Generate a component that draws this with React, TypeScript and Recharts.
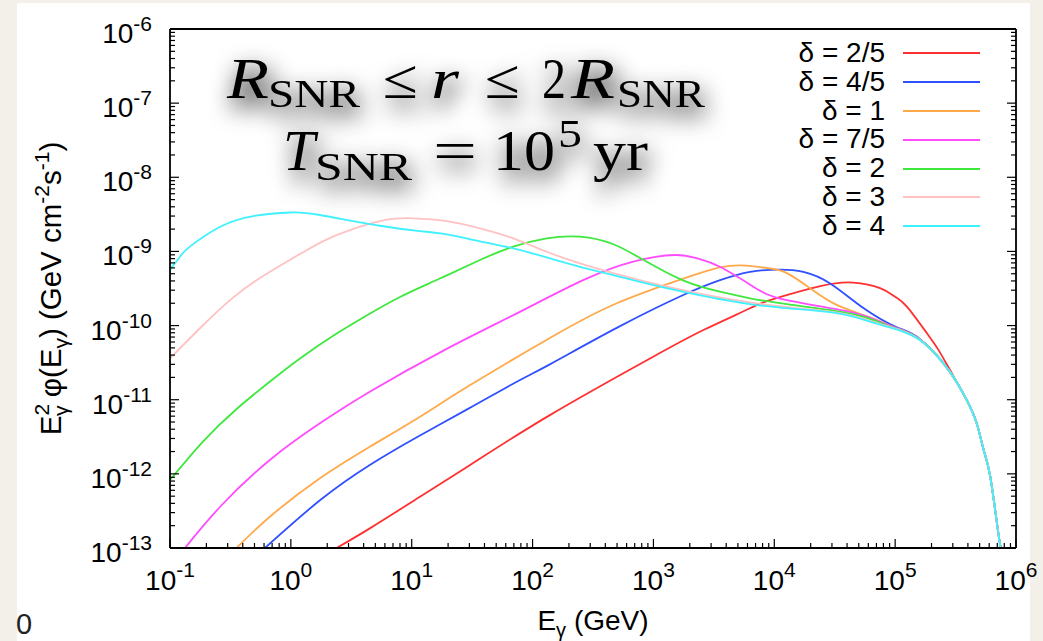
import React from "react";
import { LineChart, Line, XAxis, YAxis, Legend } from "recharts";

type Pt = [number, number];

const FONT = "'Liberation Sans', Arial, Helvetica, sans-serif";
const SERIF = "'Liberation Serif', 'Times New Roman', serif";

// axis ticks (log decades)
const xMajorTicks = [0.1, 1, 10, 100, 1e3, 1e4, 1e5, 1e6];
const yMajorTicks = [1e-13, 1e-12, 1e-11, 1e-10, 1e-9, 1e-8, 1e-7, 1e-6];
const minorMantissas = [2, 3, 4, 5, 6, 7, 8, 9];

const seriesNames = ["δ = 2/5", "δ = 4/5", "δ = 1", "δ = 7/5", "δ = 2", "δ = 3", "δ = 4"];
const seriesColors = ["#ff3030", "#3050ff", "#ffa94a", "#ff4cff", "#3ee83e", "#ffc2c2", "#3ff0ff"];

// high energy cut-off, shared by every curve
const cutoffTail: Pt[] = [
  [3.9e5, 1.0e-11], [4.73e5, 4.8e-12], [5.4e5, 2.1e-12],
  [6.1e5, 9.5e-13], [7.0e5, 2.0e-13], [7.5e5, 9.5e-14],
];

// E (GeV), E^2 phi (GeV cm^-2 s^-1)
const delta25: Pt[] = [
  [2.39, 1.0e-13], [4.5, 1.84e-13], [11.7, 4.9e-13], [30, 1.3e-12], [139, 6.2e-12],
  [937, 3.6e-11], [2590, 8.7e-11], [6300, 1.71e-10], [9200, 2.2e-10], [2.4e4, 3.4e-10],
  [4.5e4, 3.8e-10], [7.5e4, 3.2e-10], [1.0e5, 2.45e-10], [1.25e5, 1.8e-10],
  [1.82e5, 8.0e-11], [2.28e5, 4.7e-11], [2.85e5, 2.5e-11],
  ...cutoffTail,
];
const delta45: Pt[] = [
  [0.61, 1.0e-13], [1.74, 4.4e-13], [4.5, 1.32e-12], [11.7, 3.3e-12], [30, 7.7e-12],
  [74, 1.75e-11], [139, 3.0e-11], [497, 9.3e-11], [1766, 2.58e-10], [3556, 4.1e-10],
  [6300, 5.3e-10], [1.11e4, 5.7e-10], [1.74e4, 5.3e-10], [2.9e4, 3.7e-10],
  [5.5e4, 1.71e-10], [1.03e5, 9.5e-11], [1.6e5, 6.6e-11], [2.8e5, 2.45e-11],
  ...cutoffTail,
];
const delta1: Pt[] = [
  [0.356, 1.0e-13], [0.67, 2.64e-13], [1.74, 8.7e-13], [4.5, 2.32e-12], [11.7, 5.9e-12],
  [30, 1.55e-11], [139, 6.8e-11], [497, 2.0e-10], [1766, 4.3e-10], [3556, 6.1e-10],
  [5800, 6.45e-10], [9200, 5.9e-10], [1.27e4, 5.1e-10], [1.97e4, 3.2e-10],
  [3.28e4, 1.9e-10], [6.2e4, 1.29e-10], [1.03e5, 9.2e-11], [1.6e5, 6.5e-11],
  [2.8e5, 2.45e-11],
  ...cutoffTail,
];
const delta75: Pt[] = [
  [0.133, 1.0e-13], [0.26, 3.6e-13], [0.67, 1.54e-12], [1.74, 4.8e-12], [4.5, 1.28e-11],
  [18.8, 4.7e-11], [74, 1.46e-10], [262, 4.1e-10], [681, 7.3e-10], [1500, 8.95e-10],
  [2280, 8.1e-10], [3550, 6.2e-10], [6700, 3.35e-10], [1.27e4, 2.2e-10],
  [4.5e4, 1.49e-10], [8.5e4, 1.03e-10], [1.6e5, 6.55e-11], [2.8e5, 2.45e-11],
  ...cutoffTail,
];
const delta2: Pt[] = [
  [0.1, 8.26e-13], [0.189, 2.77e-12], [0.356, 7.5e-12], [0.672, 1.76e-11], [1.19, 3.6e-11],
  [2.24, 7.3e-11], [4.24, 1.37e-10], [8.0, 2.43e-10], [17.1, 4.31e-10], [36.7, 7.66e-10],
  [69.2, 1.16e-9], [131, 1.5e-9], [247, 1.58e-9], [466, 1.25e-9], [824, 7.7e-10],
  [1800, 4.0e-10], [3556, 2.86e-10], [6300, 2.33e-10], [1.27e4, 1.95e-10],
  [4.5e4, 1.43e-10], [8.5e4, 1.01e-10], [1.6e5, 6.5e-11], [2.8e5, 2.45e-11],
  ...cutoffTail,
];
const delta3: Pt[] = [
  [0.1, 3.6e-11], [0.177, 9.2e-11], [0.334, 2.4e-10], [0.631, 5.0e-10], [1.35, 1.04e-9],
  [2.39, 1.66e-9], [5.47, 2.57e-9], [10.3, 2.8e-9], [19.5, 2.57e-9], [36.7, 2.05e-9],
  [69.2, 1.5e-9], [131, 9.9e-10], [247, 6.9e-10], [466, 5.1e-10], [1290, 3.35e-10],
  [6300, 2.05e-10], [2.4e4, 1.6e-10], [4.5e4, 1.35e-10], [8.5e4, 9.9e-11],
  [1.6e5, 6.45e-11], [2.8e5, 2.45e-11],
  ...cutoffTail,
];
const delta4: Pt[] = [
  [0.1, 5.7e-10], [0.121, 8.5e-10], [0.146, 1.16e-9], [0.26, 2.15e-9], [0.49, 3.0e-9],
  [1.0, 3.35e-9], [1.74, 3.1e-9], [5.47, 2.22e-9], [11.7, 1.88e-9], [19.5, 1.7e-9],
  [36.7, 1.37e-9], [69.2, 1.1e-9], [131, 8.3e-10], [247, 6.2e-10], [466, 4.8e-10],
  [1290, 3.2e-10], [6300, 1.95e-10], [2.4e4, 1.57e-10], [4.5e4, 1.32e-10],
  [8.5e4, 9.7e-11], [1.6e5, 6.4e-11], [2.8e5, 2.45e-11],
  ...cutoffTail,
];

const allSeries = [delta25, delta45, delta1, delta75, delta2, delta3, delta4];

const toRows = (pts: Pt[]) => pts.map(([e, flux]) => ({ e, flux }));

const withMinor = (majors: number[]) =>
  majors.flatMap((m, i) =>
    i < majors.length - 1 ? [m, ...minorMantissas.map((k) => k * m)] : [m]
  );

const xTicks = withMinor(xMajorTicks);
const yTicks = withMinor(yMajorTicks);

const isMajor = (v: number) => {
  const l = Math.log10(v);
  return Math.abs(l - Math.round(l)) < 1e-6;
};
const expOf = (v: number) => String(Math.round(Math.log10(v)));

const MAJOR = 9;
const MINOR = 5;

const BottomTick = (props: any) => {
  const { x, y, payload } = props;
  const v = payload.value;
  const major = isMajor(v);
  return (
    <g>
      <line x1={x} x2={x} y1={y} y2={y - (major ? MAJOR : MINOR)} stroke="#000" strokeWidth={1.2} />
      {major && (
        <text x={x} y={y + 42} textAnchor="middle" fontFamily={FONT} fontSize={28} fill="#000">
          10
          <tspan dy={-13} fontSize={21}>{expOf(v)}</tspan>
        </text>
      )}
    </g>
  );
};

const TopTick = (props: any) => {
  const { x, y, payload } = props;
  const len = isMajor(payload.value) ? MAJOR : MINOR;
  return <line x1={x} x2={x} y1={y} y2={y + len} stroke="#000" strokeWidth={1.2} />;
};

const LeftTick = (props: any) => {
  const { x, y, payload } = props;
  const v = payload.value;
  const major = isMajor(v);
  return (
    <g>
      <line x1={x} x2={x + (major ? MAJOR : MINOR)} y1={y} y2={y} stroke="#000" strokeWidth={1.2} />
      {major && (
        <text x={x - 18} y={y + 14} textAnchor="end" fontFamily={FONT} fontSize={28} fill="#000">
          10
          <tspan dy={-12} fontSize={21}>{expOf(v)}</tspan>
        </text>
      )}
    </g>
  );
};

const RightTick = (props: any) => {
  const { x, y, payload } = props;
  const len = isMajor(payload.value) ? MAJOR : MINOR;
  return <line x1={x} x2={x - len} y1={y} y2={y} stroke="#000" strokeWidth={1.2} />;
};

const XTitle = (props: any) => {
  const { x, y, width } = props.viewBox;
  return (
    <text x={x + width / 2} y={y + 82} textAnchor="middle" fontFamily={FONT} fontSize={28} fill="#000">
      E
      <tspan dy={7} fontSize={20}>γ</tspan>
      <tspan dy={-7}> (GeV)</tspan>
    </text>
  );
};

const YTitle = (props: any) => {
  const { y, height } = props.viewBox;
  const cx = 61;
  const cy = y + height / 2;
  return (
    <text
      x={cx}
      y={cy}
      transform={`rotate(-90 ${cx} ${cy})`}
      textAnchor="middle"
      fontFamily={FONT}
      fontSize={29.5}
      fill="#000"
    >
      E
      <tspan dy={-12} fontSize={21}>2</tspan>
      <tspan dx={-12} dy={19} fontSize={21}>γ</tspan>
      <tspan dy={-7}> φ(E</tspan>
      <tspan dy={7} fontSize={21}>γ</tspan>
      <tspan dy={-7}>) (GeV cm</tspan>
      <tspan dy={-12} fontSize={21}>-2</tspan>
      <tspan dy={12}>s</tspan>
      <tspan dy={-12} fontSize={21}>-1</tspan>
      <tspan dy={12}>)</tspan>
    </text>
  );
};

const renderLegend = (props: any) => {
  const items = [...(props.payload || [])].sort(
    (a: any, b: any) => seriesNames.indexOf(a.value) - seriesNames.indexOf(b.value)
  );
  return (
    <div style={{ fontFamily: FONT, fontSize: 28, color: "#000" }}>
      {items.map((entry: any) => (
        <div
          key={entry.value}
          style={{ display: "flex", alignItems: "center", height: 28.8, lineHeight: "28.8px" }}
        >
          <span style={{ width: 115, textAlign: "right", whiteSpace: "nowrap" }}>{entry.value}</span>
          <span style={{ width: 77, height: 2, marginLeft: 18, background: entry.color }} />
        </div>
      ))}
    </div>
  );
};

// latex-style annotation pieces: text, left x, baseline, size, italic, width
const annotation = [
  { t: "R", x: 227, y: 98, s: 56, i: true, w: 42 },
  { t: "SNR", x: 268, y: 107, s: 40, i: false, w: 92 },
  { t: "≤", x: 383, y: 98, s: 56, i: false, w: 35 },
  { t: "r", x: 431, y: 98, s: 56, i: true, w: 28 },
  { t: "≤", x: 485, y: 98, s: 56, i: false, w: 35 },
  { t: "2", x: 542, y: 98, s: 56, i: false, w: 24 },
  { t: "R", x: 571, y: 98, s: 56, i: true, w: 44 },
  { t: "SNR", x: 617, y: 107, s: 40, i: false, w: 88 },
  { t: "T", x: 283, y: 170, s: 56, i: true, w: 32 },
  { t: "SNR", x: 315, y: 180, s: 40, i: false, w: 97 },
  { t: "=", x: 433, y: 170, s: 56, i: false, w: 44 },
  { t: "10", x: 493, y: 170, s: 56, i: false, w: 62 },
  { t: "5", x: 558, y: 147, s: 40, i: false, w: 24 },
  { t: "yr", x: 593, y: 170, s: 56, i: false, w: 55 },
];

export default function App() {
  return (
    <div
      style={{
        position: "fixed",
        left: 0,
        top: 0,
        width: 1043,
        height: 641,
        background: "#f3f0ea",
        overflow: "hidden",
      }}
    >
      <div style={{ position: "absolute", left: 17, top: 3, width: 1013, height: 638, background: "#fff" }} />

      <svg width={1043} height={641} style={{ position: "absolute", left: 0, top: 0 }}>
        <defs>
          <filter id="softShadow" x="-20%" y="-70%" width="140%" height="260%">
            <feGaussianBlur in="SourceAlpha" stdDeviation="12" />
            <feOffset dx="3" dy="10" />
            <feComponentTransfer>
              <feFuncA type="linear" slope="1.2" />
            </feComponentTransfer>
            <feMerge>
              <feMergeNode />
              <feMergeNode in="SourceGraphic" />
            </feMerge>
          </filter>
        </defs>
        <g filter="url(#softShadow)" fontFamily={SERIF} fill="#000">
          {annotation.map((p, k) => (
            <text
              key={k}
              x={p.x}
              y={p.y}
              fontSize={p.s}
              fontStyle={p.i ? "italic" : "normal"}
              textLength={p.w}
              lengthAdjust="spacingAndGlyphs"
            >
              {p.t}
            </text>
          ))}
        </g>
        <text x={16} y={634} fontFamily={FONT} fontSize={29} fill="#222">
          0
        </text>
      </svg>

      <div style={{ position: "absolute", left: 0, top: 0 }}>
        <LineChart width={1043} height={641} margin={{ top: 28, right: 26, bottom: 92, left: 169 }}>
          <XAxis
            xAxisId="bottom"
            dataKey="e"
            type="number"
            scale="log"
            domain={[0.1, 1e6]}
            allowDataOverflow
            ticks={xTicks}
            interval={0}
            height={1}
            tickSize={0}
            tickMargin={0}
            tickLine={false}
            axisLine={{ stroke: "#000", strokeWidth: 1.8 }}
            tick={BottomTick}
            label={{ content: XTitle }}
          />
          <XAxis
            xAxisId="top"
            orientation="top"
            type="number"
            scale="log"
            domain={[0.1, 1e6]}
            allowDataOverflow
            ticks={xTicks}
            interval={0}
            height={1}
            tickSize={0}
            tickMargin={0}
            tickLine={false}
            axisLine={{ stroke: "#000", strokeWidth: 1.8 }}
            tick={TopTick}
          />
          <YAxis
            yAxisId="left"
            type="number"
            scale="log"
            domain={[1e-13, 1e-6]}
            allowDataOverflow
            ticks={yTicks}
            interval={0}
            width={1}
            tickSize={0}
            tickMargin={0}
            tickLine={false}
            axisLine={{ stroke: "#000", strokeWidth: 1.8 }}
            tick={LeftTick}
            label={{ content: YTitle }}
          />
          <YAxis
            yAxisId="right"
            orientation="right"
            type="number"
            scale="log"
            domain={[1e-13, 1e-6]}
            allowDataOverflow
            ticks={yTicks}
            interval={0}
            width={1}
            tickSize={0}
            tickMargin={0}
            tickLine={false}
            axisLine={{ stroke: "#000", strokeWidth: 1.8 }}
            tick={RightTick}
          />
          <Legend
            layout="vertical"
            align="center"
            verticalAlign="middle"
            wrapperStyle={{ left: 770, top: 39, width: 215 }}
            content={renderLegend}
          />
          {allSeries.map((pts, k) => (
            <Line
              key={seriesNames[k]}
              xAxisId="bottom"
              yAxisId="left"
              data={toRows(pts)}
              dataKey="flux"
              name={seriesNames[k]}
              type="natural"
              stroke={seriesColors[k]}
              strokeWidth={1.8}
              dot={false}
              activeDot={false}
              isAnimationActive={false}
            />
          ))}
        </LineChart>
      </div>
    </div>
  );
}
